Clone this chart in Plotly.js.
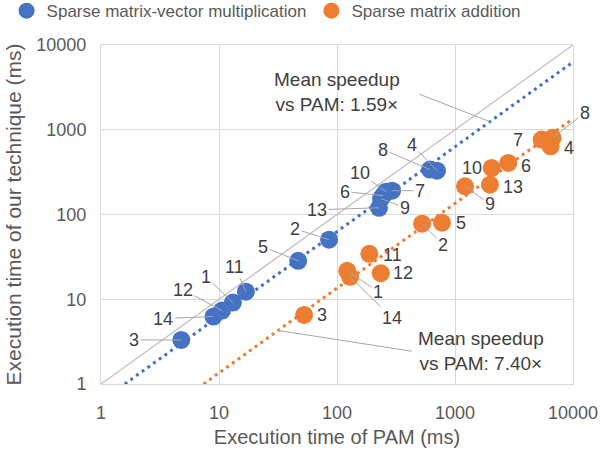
<!DOCTYPE html>
<html>
<head>
<meta charset="utf-8">
<script src="https://cdn.plot.ly/plotly-3.0.1.min.js"></script>
<style>html,body{margin:0;padding:0;background:#fff;}#chart{width:601px;height:451px;}</style>
</head>
<body>
<div id="chart"></div>
<script>
// ---- data ----
const benchIds = ["1","2","3","4","5","6","7","8","9","10","11","12","13","14"];
// Sparse matrix-vector multiplication (ms)
const smvPam  = [13.1, 85.7, 4.79, 704, 46.9, 246, 293, 614, 236, 260, 16.9, 10.6, 227, 8.98];
const smvOurs = [9.14, 50.4, 3.31, 329, 28.4, 167, 191, 339, 154, 186, 12.3, 7.35, 120, 6.25];
// Sparse matrix addition (ms)
const addPam  = [122, 526, 52.6, 6460, 776, 2826, 5420, 6717, 1216, 2046, 188, 235, 1978, 129];
const addOurs = [21.7, 77.9, 6.54, 638, 80.0, 406, 766, 802, 215, 354, 34.4, 20.3, 225, 18.4];
// parity line and mean-speedup trend lines
const parityX = [1, 10000];
const parityY = [1, 10000];
const smvTrendX = [1.59, 10000];
const smvTrendY = [1, 6290];
const addTrendX = [7.40, 10000];
const addTrendY = [1, 1351];
const smvSpeedupText = "Mean speedup<br>vs PAM: 1.59×";
const addSpeedupText = "Mean speedup<br>vs PAM: 7.40×";
const tickVals = [1, 10, 100, 1000, 10000];
const tickText = ["1", "10", "100", "1000", "10000"];

// ---- styling / layout ----
const BLUE = "#4472C4", ORANGE = "#ED7D31";
const FONT = "Liberation Sans, Arial, sans-serif";
// label offsets in pixels (text centre relative to the point)
const smvLabelOff = [[-27,-26],[-34,-11],[-47,0],[-25,-26],[-35,-14],[-38,-4],[28,0],[-47,-20],[24,9],[-26,-19],[-11,-25],[-39,-21],[-62,2],[-50,2]];
const addLabelOff = [[31,21],[21,21],[18,0],[18,2],[19,0],[18,3],[-24,0],[32,-25],[25,18],[-20,0],[23,1],[22,0],[23,2],[42,41]];

const traces = [
  {x: parityX, y: parityY, mode: "lines", line: {color: "#BFBFBF", width: 1.3}, showlegend: false, hoverinfo: "skip"},
  {x: smvTrendX, y: smvTrendY, mode: "lines", line: {color: BLUE, width: 3, dash: "3px,4px"}, showlegend: false, hoverinfo: "skip"},
  {x: addTrendX, y: addTrendY, mode: "lines", line: {color: ORANGE, width: 3, dash: "3px,4px"}, showlegend: false, hoverinfo: "skip"},
  {x: smvPam, y: smvOurs, mode: "markers", name: "Sparse matrix-vector multiplication", marker: {color: BLUE, size: 18}},
  {x: addPam, y: addOurs, mode: "markers", name: "Sparse matrix addition", marker: {color: ORANGE, size: 18}}
];

const annotations = [];
function addLabels(xs, ys, offs) {
  for (let i = 0; i < benchIds.length; i++) {
    const [dx, dy] = offs[i];
    const dist = Math.hypot(dx, dy);
    const base = {x: Math.log10(xs[i]), y: Math.log10(ys[i]), xref: "x", yref: "y", text: benchIds[i],
      font: {family: FONT, size: 18, color: "#404040"}};
    if (dist > 24) {
      Object.assign(base, {showarrow: true, ax: dx, ay: dy, arrowhead: 0, arrowwidth: 1, arrowcolor: "#A6A6A6", standoff: 0});
    } else {
      Object.assign(base, {showarrow: false, xshift: dx, yshift: -dy});
    }
    annotations.push(base);
  }
}
addLabels(smvPam, smvOurs, smvLabelOff);
addLabels(addPam, addOurs, addLabelOff);

// mean speedup notes (positions in log10 axis units)
annotations.push({x: 2.0, y: 3.44, xref: "x", yref: "y", text: smvSpeedupText,
  showarrow: false, font: {family: FONT, size: 19, color: "#404040"}, align: "center"});
annotations.push({x: Math.log10(1979), y: Math.log10(1245), xref: "x", yref: "y", text: " ", font: {size: 1},
  showarrow: true, ax: -72, ay: -28, arrowhead: 0, arrowwidth: 1, arrowcolor: "#A6A6A6", standoff: 0});
annotations.push({x: 3.22, y: 0.39, xref: "x", yref: "y", text: addSpeedupText,
  showarrow: false, font: {family: FONT, size: 19, color: "#404040"}, align: "center"});
annotations.push({x: Math.log10(31.7), y: Math.log10(31.7 / 7.40), xref: "x", yref: "y", text: " ", font: {size: 1},
  showarrow: true, ax: 135, ay: 21, arrowhead: 0, arrowwidth: 1, arrowcolor: "#A6A6A6", standoff: 0});

const axisCommon = {
  type: "log", range: [0, 4], tickvals: tickVals, ticktext: tickText,
  showgrid: true, gridcolor: "#D9D9D9", gridwidth: 1,
  showline: true, mirror: true, linecolor: "#D9D9D9", linewidth: 1,
  zeroline: false, ticks: "", tickfont: {family: FONT, size: 18, color: "#595959"}
};

const layout = {
  width: 601, height: 451,
  margin: {l: 101, r: 28, t: 45, b: 67, autoexpand: false},
  paper_bgcolor: "#fff", plot_bgcolor: "#fff",
  font: {family: FONT, color: "#595959"},
  xaxis: Object.assign({}, axisCommon, {ticklabelstandoff: 12, automargin: false,
    title: {text: "Execution time of PAM (ms)", font: {family: FONT, size: 20, color: "#595959"}, standoff: 8}}),
  yaxis: Object.assign({}, axisCommon, {ticklabelstandoff: 10, automargin: false,
    title: {text: "Execution time of our technique (ms)", font: {family: FONT, size: 21, color: "#595959"}, standoff: 8}}),
  legend: {orientation: "h", x: -0.2, xanchor: "left", y: 1.1, yanchor: "middle",
    font: {family: FONT, size: 17, color: "#595959"}, itemwidth: 30, tracegroupgap: 0},
  annotations: annotations,
  showlegend: true
};

Plotly.newPlot("chart", traces, layout, {displayModeBar: false, staticPlot: true});
</script>
</body>
</html>
